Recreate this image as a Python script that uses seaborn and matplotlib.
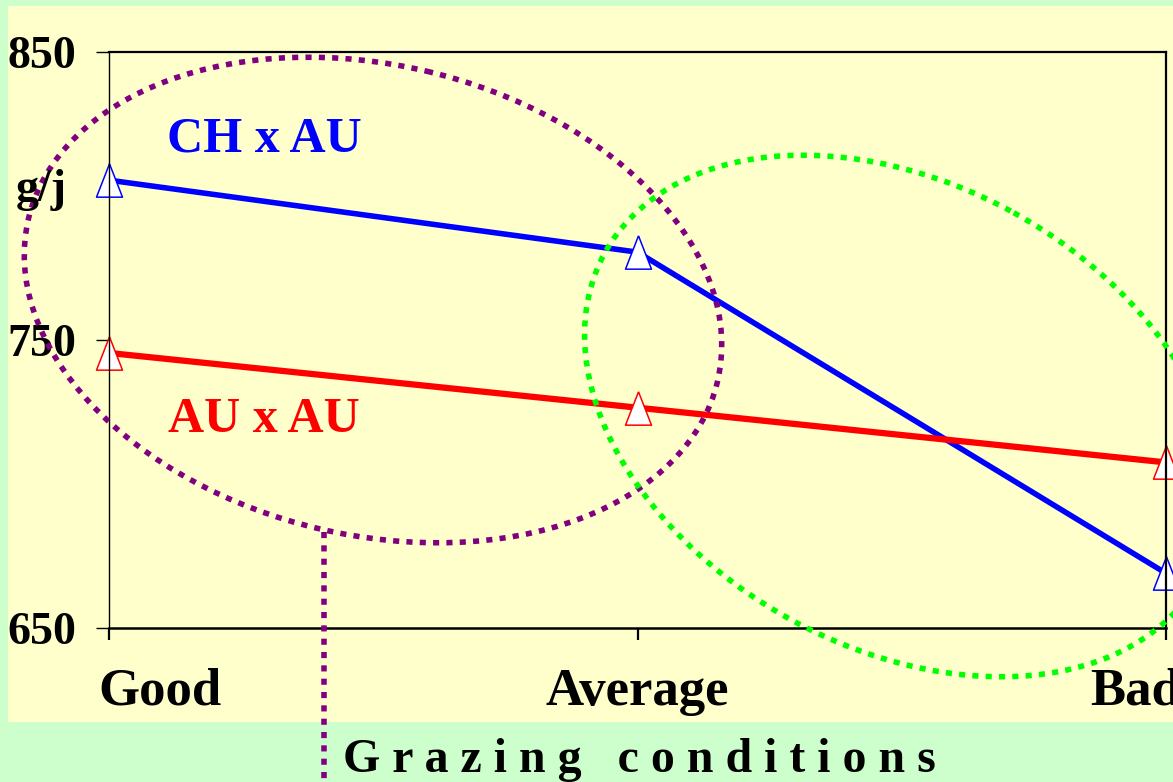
import numpy as np
import pandas as pd
import matplotlib
matplotlib.use("Agg")
import matplotlib.pyplot as plt
import seaborn as sns
from matplotlib.patches import Ellipse, Rectangle
from matplotlib.lines import Line2D
from matplotlib.transforms import Affine2D

# --- data -------------------------------------------------------------
conditions = ["Good", "Average", "Bad"]
ch_x_au = [805.5, 780.5, 669.0]
au_x_au = [745.5, 726.5, 707.5]
crosses = ["CH x AU", "AU x AU"]
y_ticks = [650, 750, 850]
y_unit = "g/j"
x_title = "G r a z i n g   c o n d i t i o n s"

# --- style ------------------------------------------------------------
W, H = 1173, 782
sns.set_style("white")
plt.rcParams["font.family"] = ["Liberation Serif", "DejaVu Serif"]
plt.rcParams["font.weight"] = "bold"
for key in ("text.color", "axes.labelcolor", "xtick.color", "ytick.color",
            "axes.edgecolor"):
    plt.rcParams[key] = "black"

GREEN_BG = "#CCFFCC"
YELLOW_BG = "#FFFFCC"
PURPLE = "#800080"
LIME = "#00FF00"
BLUE = "#0000FF"
RED = "#FF0000"

fig = plt.figure(figsize=(W / 100, H / 100), dpi=100, facecolor=GREEN_BG)
# pixel coordinates, origin top-left
px = Affine2D().scale(1 / W, -1 / H).translate(0, 1) + fig.transFigure

fig.add_artist(Rectangle((8, 6), W - 8, 716, transform=px,
                         facecolor=YELLOW_BG, edgecolor="none", zorder=-5))

ax = fig.add_axes([109 / W, 1 - 628 / H, (1166 - 109) / W, (628 - 52) / H])
ax.set_facecolor("none")

df = pd.DataFrame({
    "condition": conditions * 2,
    "gain": ch_x_au + au_x_au,
    "cross": [crosses[0]] * 3 + [crosses[1]] * 3,
})

tri = np.array([(0, 0.5), (-0.39, -0.5), (0.39, -0.5), (0, 0.5)])
line_styles = {crosses[0]: (BLUE, 4.0), crosses[1]: (RED, 4.5)}
for cross, (color, lw) in line_styles.items():
    sns.lineplot(data=df[df["cross"] == cross], x="condition", y="gain",
                 color=color, linewidth=lw, marker=tri, markersize=24,
                 markerfacecolor="white", markeredgecolor=color,
                 markeredgewidth=1.1, sort=False, legend=False, ax=ax)
for ln in ax.lines:
    ln.set_clip_on(False)

ax.set_xlim(0, 2)
ax.set_ylim(650, 850)
ax.set_xticks(range(len(conditions)))
ax.set_xticklabels([])
ax.set_yticks(y_ticks)
ax.set_yticklabels([str(v) for v in y_ticks], fontsize=33, fontweight="bold",
                   color="black")
ax.set_xlabel("")
ax.set_ylabel("")
ax.tick_params(axis="y", direction="out", length=9.4, width=1.0, pad=14.5,
               left=True, colors="black")
ax.tick_params(axis="x", direction="out", length=8.6, width=1.6,
               bottom=True, colors="black")
for side, w in {"left": 1.0, "top": 1.6, "right": 1.6, "bottom": 1.8}.items():
    ax.spines[side].set_linewidth(w)
    ax.spines[side].set_color("black")
    ax.spines[side].set_visible(True)

# category names under the axis
label_offsets = [(-7.9, "left"), (0, "center"), (-54.7, "left")]
for i, (name, (dx, ha)) in enumerate(zip(conditions, label_offsets)):
    ax.annotate(name, xy=(i, 650), xytext=(dx, -55.4),
                textcoords="offset points", ha=ha, va="baseline",
                fontsize=38, fontweight="bold", color="black",
                annotation_clip=False)

# series labels
fig.text(264 / W, 1 - 152 / H, crosses[0], color=BLUE, fontsize=36,
         fontweight="bold", ha="center", va="baseline")
fig.text(264 / W, 1 - 432 / H, crosses[1], color=RED, fontsize=36,
         fontweight="bold", ha="center", va="baseline")

# unit and axis title
fig.text(41 / W, 1 - 201 / H, y_unit, fontsize=33, fontweight="bold",
         color="black", ha="center", va="baseline")
fig.text(639 / W, 1 - 772 / H, x_title, fontsize=34.5, fontweight="bold",
         color="black", ha="center", va="baseline")

# dotted grouping ellipses
dot = (0, (1.1, 1.3))
for cx, cy, w, h, ang, col in [(373, 300, 708, 470, 13.3, PURPLE),
                               (902, 416, 678, 464, 28.8, LIME)]:
    fig.add_artist(Ellipse((cx, cy), w, h, angle=ang, transform=px,
                           fill=False, edgecolor=col, linewidth=4,
                           linestyle=dot, capstyle="butt", zorder=3))
fig.add_artist(Line2D([324, 324], [532, 782], transform=px, color=PURPLE,
                      linewidth=4, linestyle=dot, dash_capstyle="butt",
                      zorder=3))

fig.savefig("out.png", dpi=100, facecolor=GREEN_BG)
